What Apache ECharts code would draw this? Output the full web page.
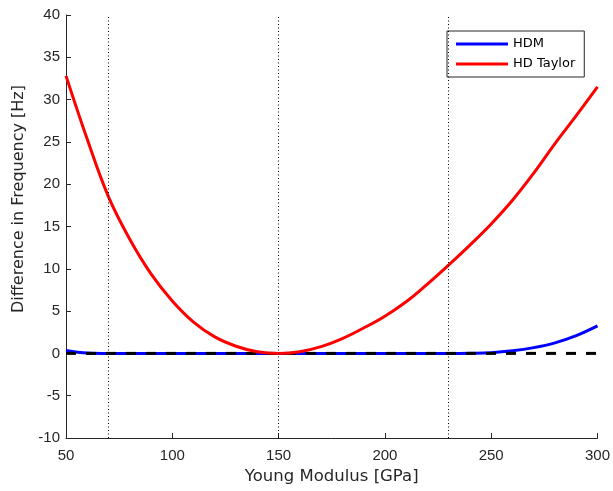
<!DOCTYPE html>
<html>
<head>
<meta charset="utf-8">
<script src="https://cdn.jsdelivr.net/npm/echarts@6/dist/echarts.min.js"></script>
<style>html,body{margin:0;padding:0;background:#fff;}#c{width:613px;height:491px;}</style>
</head>
<body>
<div id="c"></div>
<script>
const xValues = [50,60,70,80,90,100,110,120,130,140,150,160,170,180,190,200,210,220,230,240,250,260,270,280,290,300];
const hdTaylor = [32.8,25.3,18.5,13.5,9.4,6.2,3.7,1.95,0.85,0.2,0,0.2,0.8,1.75,3.0,4.4,6.1,8.2,10.45,12.8,15.3,18.1,21.3,24.8,28.1,31.5];
const hdm = [0.35,0.05,0,0,0,0,0,0,0,0,0,0,0,0,0,0,0,0,0,0.02,0.08,0.3,0.68,1.25,2.1,3.25];
const zeroLineX = [50,300];
const zeroLineY = [0,0];
const dottedX = [70,150,230];
const xTicks = {min:50,max:300,interval:50};
const yTicks = {min:-10,max:40,interval:5};
const xTitle = 'Young Modulus [GPa]';
const yTitle = 'Difference in Frequency [Hz]';

const pair = (xs, ys) => xs.map((x,i)=>[x, ys[i]]);
const chart = echarts.init(document.getElementById('c'));
const axisCol = '#262626';
const tickFont = 'Liberation Sans, Arial, sans-serif';
const textFont = 'DejaVu Sans, sans-serif';
chart.setOption({
  animation:false,
  grid:{left:66,right:12,top:15,bottom:53,containLabel:false},
  xAxis:{type:'value',min:xTicks.min,max:xTicks.max,interval:xTicks.interval,
    name:xTitle,nameLocation:'middle',nameGap:29,
    nameTextStyle:{fontFamily:textFont,fontSize:16.5,color:axisCol},
    axisLine:{show:true,onZero:false,lineStyle:{color:axisCol,width:1}},
    axisTick:{show:true,inside:true,length:5,lineStyle:{color:axisCol}},
    axisLabel:{fontFamily:tickFont,fontSize:15,color:axisCol,margin:10},
    splitLine:{show:false}},
  yAxis:{type:'value',min:yTicks.min,max:yTicks.max,interval:yTicks.interval,
    axisLine:{show:true,onZero:false,lineStyle:{color:axisCol,width:1}},
    axisTick:{show:true,inside:true,length:5,lineStyle:{color:axisCol}},
    axisLabel:{fontFamily:tickFont,fontSize:15,color:axisCol,margin:6},
    splitLine:{show:false}},
  graphic:[{type:'text',x:19,y:199,rotation:Math.PI/2,
    style:{text:yTitle,fontFamily:textFont,fontSize:16,fill:axisCol,align:'center',verticalAlign:'middle'}}],
  legend:{orient:'vertical',left:447,top:31,data:['HDM','HD Taylor'],
    icon:'rect',itemWidth:52,itemHeight:3,itemGap:6,
    padding:[6,9,6,9],borderColor:axisCol,borderWidth:1,backgroundColor:'#fff',borderRadius:0,
    textStyle:{fontFamily:textFont,fontSize:13,color:'#000',lineHeight:14}},
  series:[
    {name:'HDM',type:'line',data:pair(xValues,hdm),smooth:0.4,showSymbol:false,z:2,
      lineStyle:{color:'#0000ff',width:3},itemStyle:{color:'#0000ff'}},
    {name:'zero',type:'line',data:pair(zeroLineX,zeroLineY),showSymbol:false,z:3,
      lineStyle:{color:'#000',width:3,type:[10,10]},
      markLine:{silent:true,symbol:['none','none'],label:{show:false},
        lineStyle:{color:'#000',width:1,type:[1,2.5]},
        data:dottedX.map(x=>({xAxis:x}))}},
    {name:'HD Taylor',type:'line',data:pair(xValues,hdTaylor),smooth:0.4,showSymbol:false,z:4,
      lineStyle:{color:'#ff0000',width:3},itemStyle:{color:'#ff0000'}}
  ]
});
</script>
</body>
</html>
